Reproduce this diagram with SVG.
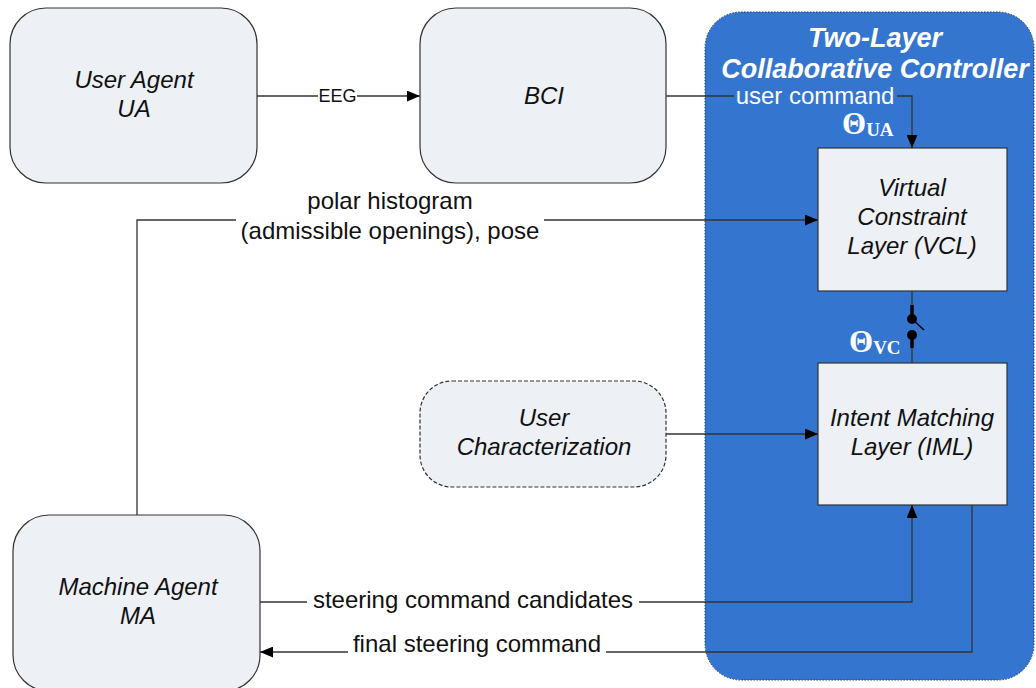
<svg xmlns="http://www.w3.org/2000/svg" width="1036" height="688" viewBox="0 0 1036 688">
<defs>
<style>
.box{fill:#edf0f5;stroke:#333;stroke-width:1.2}
.lbl{font-family:"Liberation Sans",Arial,sans-serif;font-size:24px;fill:#111;text-anchor:middle}
.it{font-style:italic}
.ln{fill:none;stroke:#333;stroke-width:1.3}
.th{font-family:"Liberation Serif","Times New Roman",serif;font-weight:bold;fill:#fff}
</style>
<marker id="ah" viewBox="0 0 12 10" refX="12" refY="5" markerWidth="13" markerHeight="11" markerUnits="userSpaceOnUse" orient="auto">
<path d="M0,0 L12,5 L0,10 Z" fill="#000"/>
</marker>
</defs>
<rect width="1036" height="688" fill="#fff"/>
<g id="controller">
<rect x="705" y="12" width="329" height="668" rx="36" fill="#3476cf" stroke="#1d3a66" stroke-width="1" stroke-dasharray="1.5,1.5"/>
<text class="lbl" x="875" y="47" style="font-weight:bold;font-style:italic;font-size:27px;fill:#fff">Two-Layer</text>
<text class="lbl" x="875" y="78" style="font-weight:bold;font-style:italic;font-size:27px;fill:#fff">Collaborative Controller</text>
</g>
<g id="ua">
<rect class="box" x="10" y="8" width="247" height="175" rx="36"/>
<text class="lbl it" x="134" y="88">User Agent</text>
<text class="lbl it" x="134" y="117">UA</text>
</g>
<g id="bci">
<rect class="box" x="420" y="8" width="246" height="175" rx="36"/>
<text class="lbl it" x="544" y="104">BCI</text>
</g>
<g id="vcl">
<rect class="box" x="818" y="148" width="189" height="143"/>
<text class="lbl it" x="912" y="196">Virtual</text>
<text class="lbl it" x="912" y="225">Constraint</text>
<text class="lbl it" x="912" y="254">Layer (VCL)</text>
</g>
<g id="iml">
<rect class="box" x="818" y="363" width="189" height="142"/>
<text class="lbl it" x="912" y="426">Intent Matching</text>
<text class="lbl it" x="912" y="455">Layer (IML)</text>
</g>
<g id="uc">
<rect class="box" x="420" y="381" width="246" height="106" rx="32" stroke-dasharray="4,2"/>
<text class="lbl it" x="544" y="426">User</text>
<text class="lbl it" x="544" y="455">Characterization</text>
</g>
<g id="ma">
<rect class="box" x="13" y="515" width="247" height="176" rx="36"/>
<text class="lbl it" x="138" y="595">Machine Agent</text>
<text class="lbl it" x="138" y="624">MA</text>
</g>
<g id="connectors">
<path class="ln" d="M257,96 H318"/>
<path class="ln" d="M357,96 H420" marker-end="url(#ah)"/>
<text class="lbl" x="337.5" y="102" style="font-size:18px">EEG</text>

<path class="ln" d="M666,96 H734"/>
<path class="ln" d="M897,96 H912 V148" marker-end="url(#ah)"/>
<text class="lbl" x="815" y="104" style="fill:#fff">user command</text>
<text class="th" x="842" y="134" style="font-size:31px">Θ<tspan font-size="19" dy="2">UA</tspan></text>

<path class="ln" d="M137,515 V220 H236"/>
<path class="ln" d="M544,220 H818" marker-end="url(#ah)"/>
<text class="lbl" x="390" y="209">polar histogram</text>
<text class="lbl" x="390" y="239">(admissible openings), pose</text>

<path class="ln" d="M666,434 H818" marker-end="url(#ah)"/>

<path class="ln" d="M912,291 V305 M912,348 V363"/>
<path d="M912,305 V319 M912,334 V348" stroke="#000" stroke-width="3.5"/>
<circle cx="912" cy="319" r="5" fill="#000"/>
<circle cx="912" cy="335" r="5" fill="#000"/>
<path d="M912,319 L924,330" stroke="#000" stroke-width="1.5"/>
<text class="th" x="849" y="352" style="font-size:31px">Θ<tspan font-size="19" dy="2">VC</tspan></text>

<path class="ln" d="M260,602 H307"/>
<path class="ln" d="M639,602 H912 V505" marker-end="url(#ah)"/>
<text class="lbl" x="473" y="608">steering command candidates</text>

<path class="ln" d="M972,505 V652 H606"/>
<path class="ln" d="M348,652 H260" marker-end="url(#ah)"/>
<text class="lbl" x="477" y="652">final steering command</text>
</g>
</svg>
